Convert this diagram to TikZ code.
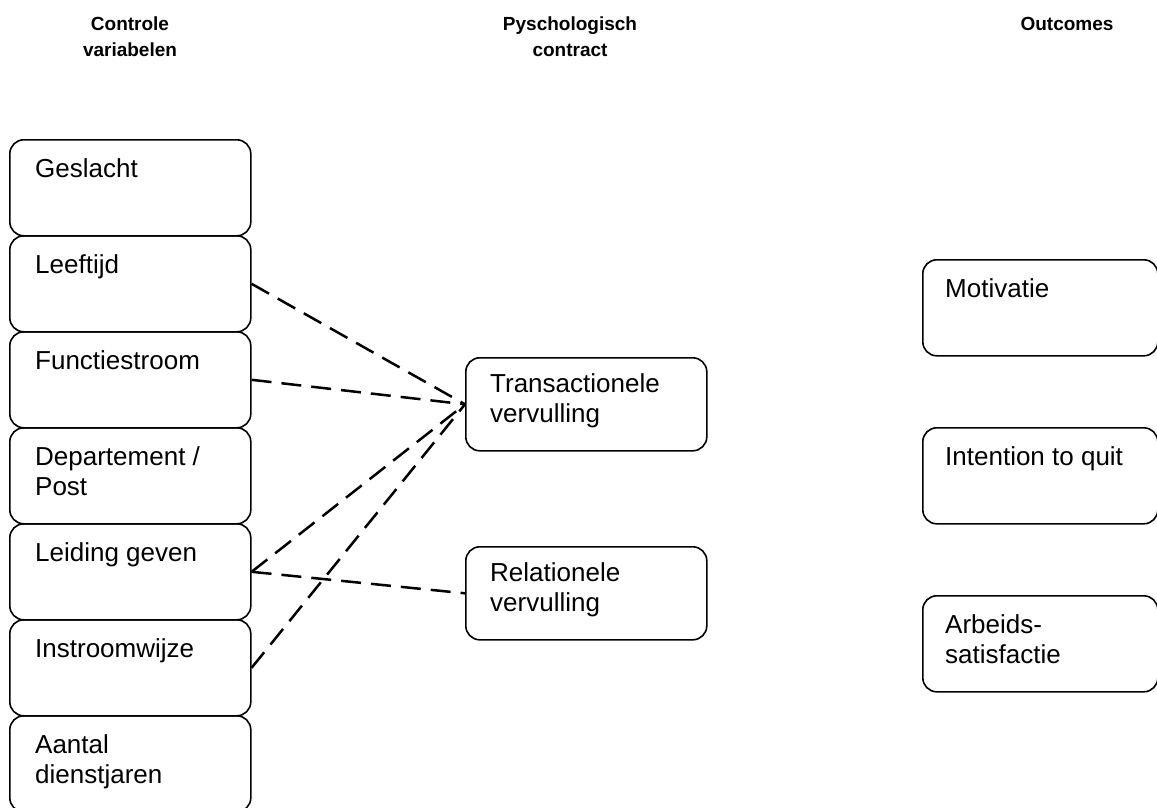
\documentclass[tikz,border=0pt]{standalone}
\usepackage{fontspec}
\setmainfont{Liberation Sans}

\begin{document}
\begin{tikzpicture}[x=1pt,y=-1pt,
  box/.style={draw, line width=1.6pt, rounded corners=14pt, inner sep=0pt,
              anchor=north west, minimum height=96pt},
  lbox/.style={box, minimum width=241pt},
  mbox/.style={box, minimum width=241pt, minimum height=93pt},
  rbox/.style={box, minimum width=235pt},
  txt/.style={anchor=north west, inner sep=0pt, align=left,
              font=\fontsize{26}{30}\selectfont},
  head/.style={anchor=north, inner sep=0pt, align=center,
               font=\fontsize{19}{26}\selectfont\bfseries},
  link/.style={dash pattern=on 20pt off 10pt, line width=2.5pt},
]
\useasboundingbox (0,0) rectangle (1157,807);
\clip (0,0) rectangle (1157,807);

% column headings
\node[head] (h1) at (130,17) {Controle\\variabelen};
\node[head] (h2) at (570,17) {Pyschologisch\\contract};
\node[head] (h3) at (1067,17) {Outcomes};

% control variables (left column)
\node[lbox] (gesl) at (9,139) {};
\node[lbox] (leef) at (9,235) {};
\node[lbox] (func) at (9,331) {};
\node[lbox] (dept) at (9,427) {};
\node[lbox] (leid) at (9,523) {};
\node[lbox] (inst) at (9,619) {};
\node[lbox] (aant) at (9,715) {};

\node[txt] (tgesl) at (35,158) {Geslacht};
\node[txt] (tleef) at (35,254) {Leeftijd};
\node[txt] (tfunc) at (35,350) {Functiestroom};
\node[txt] (tdept) at (35,446) {Departement /\\Post};
\node[txt] (tleid) at (35,542) {Leiding geven};
\node[txt] (tinst) at (35,638) {Instroomwijze};
\node[txt] (taant) at (35,734) {Aantal\\dienstjaren};

% psychological contract (middle column)
\node[mbox] (trans) at (465,357) {};
\node[mbox] (rel) at (465,546) {};
\node[txt] (ttrans) at (490,373) {Transactionele\\vervulling};
\node[txt] (trel) at (490,562) {Relationele\\vervulling};

% outcomes (right column)
\node[rbox] (mot) at (922,259) {};
\node[rbox] (itq) at (922,427) {};
\node[rbox] (arb) at (922,595) {};
\node[txt] (tmot) at (945,278) {Motivatie};
\node[txt] (titq) at (945,446) {Intention to quit};
\node[txt] (tarb) at (945,614) {Arbeids-\\satisfactie};

% dashed relations
\draw[link] (leef.east) -- (trans.west);
\draw[link] (func.east) -- (trans.west);
\draw[link] (leid.east) -- (trans.west);
\draw[link] (inst.east) -- (trans.west);
\draw[link] (leid.east) -- (rel.west);
\end{tikzpicture}
\end{document}
